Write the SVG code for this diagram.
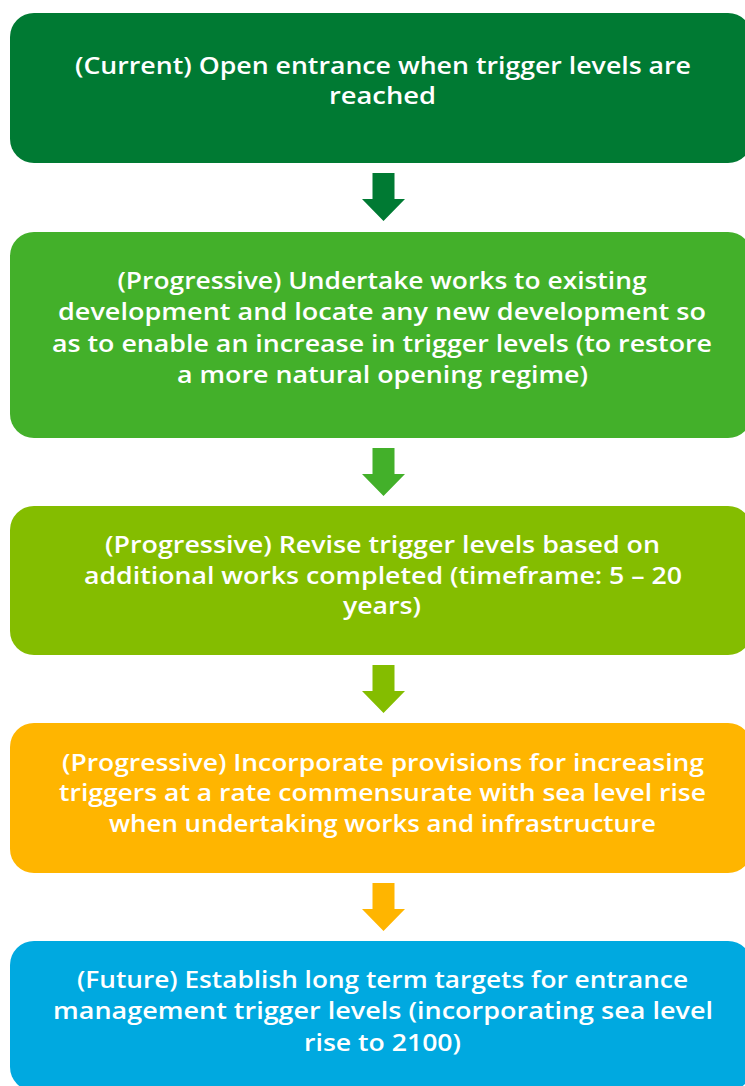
<svg xmlns="http://www.w3.org/2000/svg" width="745" height="1086" viewBox="0 0 745 1086">
<style>
.box{stroke:none}
.t{font-family:"Open Sans","Liberation Sans",sans-serif;font-weight:600;font-size:23px;fill:#ffffff;text-anchor:middle}
</style>
<rect width="745" height="1086" fill="#ffffff"/>
<g id="connectors">
<polygon fill="#007A33" points="372.5,173 394.5,173 394.5,199 405,199 383.5,221 362,199 372.5,199"/>
<polygon fill="#43B02A" points="372.5,448 394.5,448 394.5,474 405,474 383.5,496 362,474 372.5,474"/>
<polygon fill="#84BD00" points="372.5,665 394.5,665 394.5,691 405,691 383.5,713 362,691 372.5,691"/>
<polygon fill="#FFB500" points="372.5,883 394.5,883 394.5,909 405,909 383.5,931 362,909 372.5,909"/>
</g>
<g id="node1">
<rect class="box" x="10" y="13" width="742" height="150" rx="24" fill="#007A33"/>
<text class="t" x="383" y="74" textLength="616" lengthAdjust="spacingAndGlyphs">(Current) Open entrance when trigger levels are</text>
<text class="t" x="382.5" y="104" textLength="107" lengthAdjust="spacingAndGlyphs">reached</text>
</g>
<g id="node2">
<rect class="box" x="10" y="232" width="742" height="206" rx="24" fill="#43B02A"/>
<text class="t" x="382" y="289" textLength="529" lengthAdjust="spacingAndGlyphs">(Progressive) Undertake works to existing</text>
<text class="t" x="382" y="320" textLength="648" lengthAdjust="spacingAndGlyphs">development and locate any new development so</text>
<text class="t" x="382" y="352" textLength="660" lengthAdjust="spacingAndGlyphs">as to enable an increase in trigger levels (to restore</text>
<text class="t" x="382.5" y="383" textLength="411" lengthAdjust="spacingAndGlyphs">a more natural opening regime)</text>
</g>
<g id="node3">
<rect class="box" x="10" y="506" width="742" height="149" rx="24" fill="#84BD00"/>
<text class="t" x="382.5" y="553" textLength="555" lengthAdjust="spacingAndGlyphs">(Progressive) Revise trigger levels based on</text>
<text class="t" x="383" y="584" textLength="598" lengthAdjust="spacingAndGlyphs">additional works completed (timeframe: 5 – 20</text>
<text class="t" x="382" y="614" textLength="78" lengthAdjust="spacingAndGlyphs">years)</text>
</g>
<g id="node4">
<rect class="box" x="10" y="723" width="742" height="150" rx="24" fill="#FFB500"/>
<text class="t" x="383" y="771" textLength="642" lengthAdjust="spacingAndGlyphs">(Progressive) Incorporate provisions for increasing</text>
<text class="t" x="382.5" y="801" textLength="647" lengthAdjust="spacingAndGlyphs">triggers at a rate commensurate with sea level rise</text>
<text class="t" x="382.5" y="832" textLength="547" lengthAdjust="spacingAndGlyphs">when undertaking works and infrastructure</text>
</g>
<g id="node5">
<rect class="box" x="10" y="941" width="742" height="150" rx="24" fill="#00A9E0"/>
<text class="t" x="382.5" y="988" textLength="611" lengthAdjust="spacingAndGlyphs">(Future) Establish long term targets for entrance</text>
<text class="t" x="383" y="1019" textLength="660" lengthAdjust="spacingAndGlyphs">management trigger levels (incorporating sea level</text>
<text class="t" x="382.5" y="1051" textLength="157" lengthAdjust="spacingAndGlyphs">rise to 2100)</text>
</g>
</svg>
